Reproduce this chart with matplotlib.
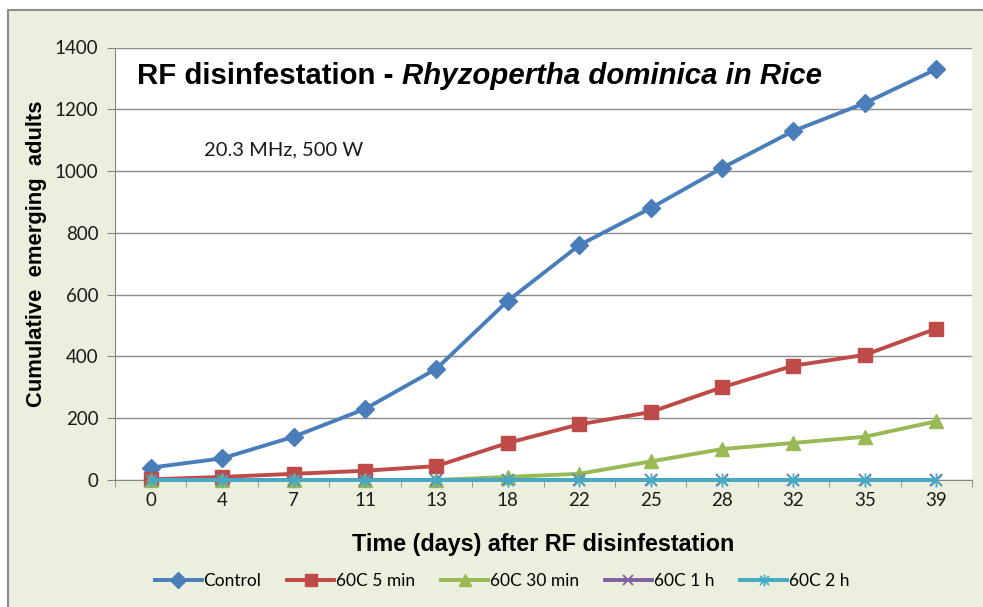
import numpy as np
import matplotlib
matplotlib.use("Agg")
import matplotlib.pyplot as plt
from matplotlib.path import Path
from matplotlib.patches import Rectangle
from matplotlib.lines import Line2D

# data
days = ["0", "4", "7", "11", "13", "18", "22", "25", "28", "32", "35", "39"]
control = [40, 70, 140, 230, 360, 580, 760, 880, 1010, 1130, 1220, 1330]
c60_5min = [2, 10, 20, 30, 45, 120, 180, 220, 300, 370, 405, 490]
c60_30min = [0, 0, 0, 0, 0, 10, 20, 60, 100, 120, 140, 190]
c60_1h = [0, 0, 0, 0, 0, 0, 0, 0, 0, 0, 0, 0]
c60_2h = [0, 0, 0, 0, 0, 0, 0, 0, 0, 0, 0, 0]

series_names = ["Control", "60C 5 min", "60C 30 min", "60C 1 h", "60C 2 h"]
line_colors = ["#4a7ebb", "#be4b48", "#98b954", "#7d60a0", "#46aac5"]

BG = "#ebf0de"
TICK_FONT = "Lato"
BOLD_FONT = "Liberation Sans"

# excel style star marker (x plus vertical bar)
star = Path([(-1, -1), (1, 1), (-1, 1), (1, -1), (0, -1.3), (0, 1.3)],
            [Path.MOVETO, Path.LINETO, Path.MOVETO, Path.LINETO, Path.MOVETO, Path.LINETO])

fig = plt.figure(figsize=(9.83, 6.07), dpi=100)
fig.patch.set_facecolor("white")

# chart area background with border only on the left and top
bx, by = 8 / 983, 1 - 10 / 607
fig.patches.append(Rectangle((bx, -0.1), 1.2, by + 0.1, transform=fig.transFigure,
                             facecolor=BG, edgecolor="none", linewidth=0, zorder=-10))
fig.lines.append(Line2D([bx, bx, 1.2], [-0.1, by, by], transform=fig.transFigure,
                        color="#8c8c8c", linewidth=1.5, zorder=-9))

ax = fig.add_axes([115 / 983, 1 - 480 / 607, (972 - 115) / 983, (480 - 47.5) / 607])
ax.set_facecolor("white")

x = np.arange(len(days))
styles = [
    dict(marker="D", markersize=9),
    dict(marker="s", markersize=10),
    dict(marker="^", markersize=10),
    dict(marker="x", markersize=9, markeredgewidth=1.3),
    dict(marker=star, markersize=10, markeredgewidth=1.3),
]
all_series = [control, c60_5min, c60_30min, c60_1h, c60_2h]
for vals, name, col, st in zip(all_series, series_names, line_colors, styles):
    ax.plot(x, vals, color=col, linewidth=2.8, label=name,
            markerfacecolor=col, markeredgecolor=col, clip_on=False, zorder=3, **st)

ax.set_xlim(-0.5, len(days) - 0.5)
ax.set_ylim(0, 1400)
ax.set_yticks(np.arange(0, 1401, 200))
ax.set_xticks(x)
ax.set_xticklabels(days)
ax.set_xticks(np.arange(-0.5, len(days), 1), minor=True)
ax.tick_params(axis="x", which="major", length=0, pad=9, labelsize=13.5, labelcolor="#1a1a1a")
ax.tick_params(axis="x", which="minor", length=5, color="#868686", direction="out")
ax.tick_params(axis="y", length=6, color="#868686", pad=6, labelsize=13.5, labelcolor="#1a1a1a")
for lab in ax.get_xticklabels() + ax.get_yticklabels():
    lab.set_fontfamily(TICK_FONT)

ax.grid(axis="y", color="#8c8c8c", linewidth=1)
ax.set_axisbelow(True)
for side in ["top", "right"]:
    ax.spines[side].set_visible(False)
ax.spines["left"].set_color("#868686")
ax.spines["bottom"].set_color("#868686")

ax.set_xlabel("Time (days) after RF disinfestation", fontfamily=BOLD_FONT, fontweight="bold",
              fontsize=16.8, labelpad=17)
ax.set_ylabel("Cumulative  emerging  adults", fontfamily=BOLD_FONT, fontweight="bold",
              fontsize=15.8)
ax.yaxis.set_label_coords(-(115 - 47) / 857, (480 - 254) / 432.5)

# title made of two parts: normal bold + bold italic
t1 = ax.text(22 / 857, 0.935, "RF disinfestation - ", transform=ax.transAxes,
             fontfamily=BOLD_FONT, fontweight="bold", fontsize=21.2, va="center", ha="left")
ax.annotate("Rhyzopertha dominica in Rice", xy=(1, 0), xycoords=t1, va="bottom", ha="left",
            fontfamily=BOLD_FONT, fontweight="bold", fontstyle="italic", fontsize=21.2)

ax.text(89 / 857, (480 - 150) / 432.5, "20.3 MHz, 500 W", transform=ax.transAxes,
        fontfamily=TICK_FONT, fontsize=14.5, va="center", ha="left", color="#1a1a1a")

leg = fig.legend(loc="center", bbox_to_anchor=(502 / 983, 1 - 581 / 607), ncol=5, frameon=False,
                 prop={"family": TICK_FONT, "size": 12.5}, handlelength=2.7, handletextpad=0.1,
                 columnspacing=1.5, markerscale=0.85)

fig.savefig("out.png", dpi=100, facecolor=fig.get_facecolor())
